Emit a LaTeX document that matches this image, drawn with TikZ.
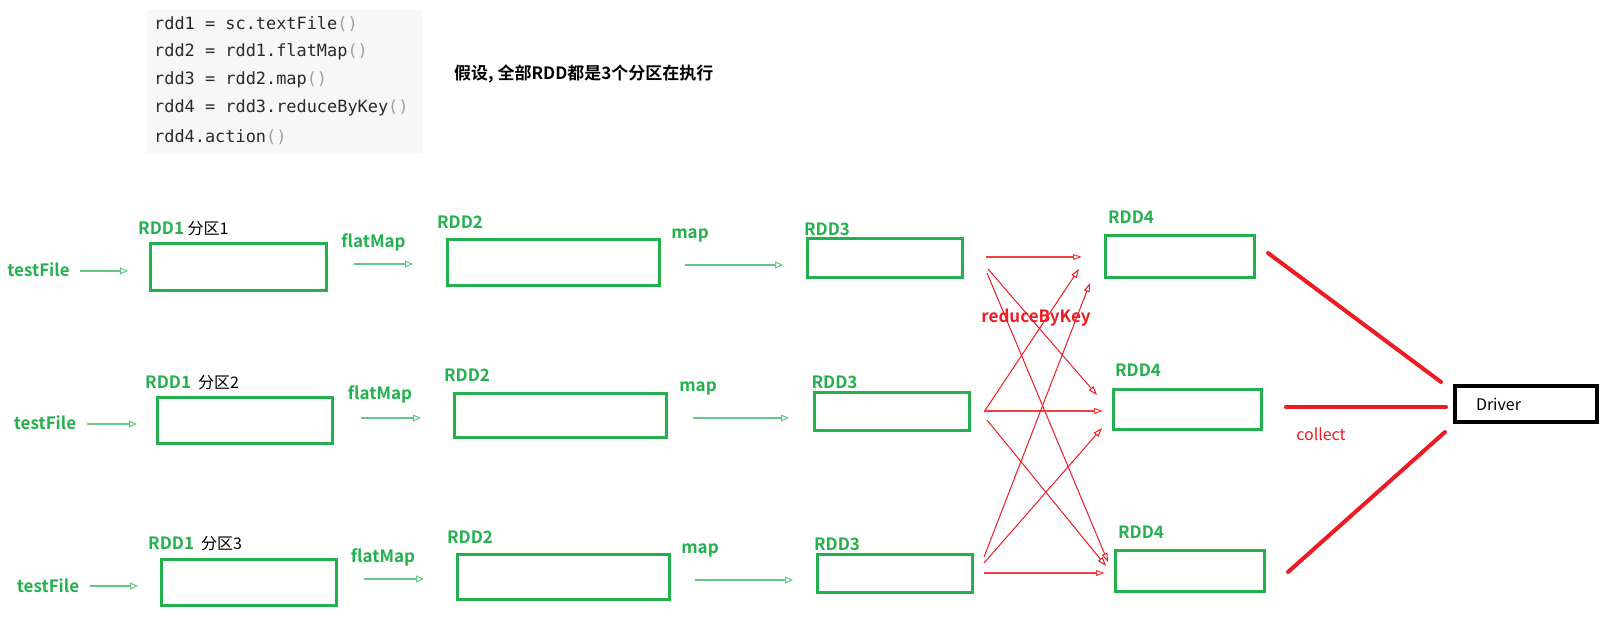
\documentclass[tikz,border=0pt]{standalone}
\usepackage{fontspec}
\setmainfont{Noto Sans CJK SC}[BoldFont={Noto Sans CJK SC Bold}]
\setmonofont{DejaVu Sans Mono}
\usetikzlibrary{arrows.meta}
\definecolor{pgreen}{HTML}{22B14C}
\definecolor{pred}{HTML}{ED1C24}
\definecolor{codebg}{HTML}{F7F7F7}
\definecolor{codefg}{HTML}{2A2A2A}
\newcommand{\pp}{{\color{gray!75}()}}
\begin{document}
\begin{tikzpicture}[x=1pt,y=-1pt,
  box/.style={draw=pgreen, line width=3pt, inner sep=0pt},
  glabel/.style={text=pgreen, font=\fontsize{17}{17}\selectfont\bfseries, inner sep=0pt},
  plabel/.style={font=\fontsize{16}{16}\selectfont, inner sep=0pt, anchor=west},
  codeline/.style={font=\ttfamily\fontsize{16.9}{16.9}\selectfont, text=codefg, inner sep=0pt, anchor=west},
  garrow/.style={draw=pgreen!70!white, line width=1.8pt, -{Triangle[open,length=8pt,width=7pt,line width=1pt]}},
  rarrow/.style={draw=pred, line width=1pt, -{Triangle[open,length=9pt,width=6pt]}},
  rharrow/.style={draw=pred!85!white, line width=1.8pt, -{Triangle[open,length=9pt,width=6pt,line width=1pt]}},
  rthick/.style={draw=pred, line width=4pt, line cap=round},
]
\useasboundingbox[fill=white] (0,0) rectangle (1611,641);

% code block
\fill[codebg] (147,10) rectangle (422,153);
\node[codeline] (c1) at (154,24) {rdd1 = sc.textFile\pp};
\node[codeline] (c2) at (154,52) {rdd2 = rdd1.flatMap\pp};
\node[codeline] (c3) at (154,80) {rdd3 = rdd2.map\pp};
\node[codeline] (c4) at (154,108) {rdd4 = rdd3.reduceByKey\pp};
\node[codeline] (c5) at (154,137) {rdd4.action\pp};
\node[font=\fontsize{17}{17}\selectfont\bfseries, inner sep=0pt, anchor=west] (note) at (454,74) {假设, 全部RDD都是3个分区在执行};

% boxes
\node[box, minimum width=176pt, minimum height=47pt] (r1a) at (238.5,267) {};
\node[box, minimum width=212pt, minimum height=46pt] (r1b) at (553.5,262.5) {};
\node[box, minimum width=155pt, minimum height=39pt] (r1c) at (885,258) {};
\node[box, minimum width=149pt, minimum height=42pt] (r1d) at (1180,256.5) {};
\node[box, minimum width=175pt, minimum height=46pt] (r2a) at (245,420.5) {};
\node[box, minimum width=212pt, minimum height=44pt] (r2b) at (560.5,415.5) {};
\node[box, minimum width=155pt, minimum height=38pt] (r2c) at (892,411.5) {};
\node[box, minimum width=148pt, minimum height=40pt] (r2d) at (1187.5,409.5) {};
\node[box, minimum width=175pt, minimum height=46pt] (r3a) at (249,582.5) {};
\node[box, minimum width=212pt, minimum height=45pt] (r3b) at (563.5,577) {};
\node[box, minimum width=155pt, minimum height=38pt] (r3c) at (895,573.5) {};
\node[box, minimum width=149pt, minimum height=41pt] (r3d) at (1190,571) {};

% driver
\node[draw=black, line width=4pt, minimum width=142pt, minimum height=36pt,
      text width=100pt, align=left, inner xsep=21pt, inner ysep=0pt,
      font=\fontsize{16}{16}\selectfont] (drv) at (1526,404) {Driver};

% labels row 1
\node[glabel] (tf1) at (38.5,270) {testFile};
\node[plabel] (l1a) at (138,229) {{\color{pgreen}\bfseries\fontsize{17}{17}\selectfont RDD1} 分区1};
\node[glabel] (fm1) at (373.5,242) {flatMap};
\node[glabel] (l1b) at (460,222) {RDD2};
\node[glabel] (mp1) at (690,235) {map};
\node[glabel] (l1c) at (827,229) {RDD3};
\node[glabel] (l1d) at (1131,217) {RDD4};
% labels row 2
\node[glabel] (tf2) at (45,423) {testFile};
\node[plabel] (l2a) at (145,383) {{\color{pgreen}\bfseries\fontsize{17}{17}\selectfont RDD1}\hspace{7pt}分区2};
\node[glabel] (fm2) at (380,394) {flatMap};
\node[glabel] (l2b) at (467,375) {RDD2};
\node[glabel] (mp2) at (698,388) {map};
\node[glabel] (l2c) at (834.5,382) {RDD3};
\node[glabel] (l2d) at (1138,370) {RDD4};
% labels row 3
\node[glabel] (tf3) at (48,586) {testFile};
\node[plabel] (l3a) at (148,544) {{\color{pgreen}\bfseries\fontsize{17}{17}\selectfont RDD1}\hspace{7pt}分区3};
\node[glabel] (fm3) at (383,557) {flatMap};
\node[glabel] (l3b) at (470,537) {RDD2};
\node[glabel] (mp3) at (700,550) {map};
\node[glabel] (l3c) at (837,544) {RDD3};
\node[glabel] (l3d) at (1141,532) {RDD4};

\node[text=pred, font=\fontsize{17}{17}\selectfont\bfseries, inner sep=0pt] (rbk) at (1036,318) {reduceByKey};
\node[text=pred, font=\fontsize{16}{16}\selectfont, inner sep=0pt] (col) at (1321,434) {collect};

% green arrow end points
\coordinate (g1s) at (80,271);  \coordinate (g1e) at (128,271);
\coordinate (g2s) at (354,264); \coordinate (g2e) at (413,264);
\coordinate (g3s) at (685,265); \coordinate (g3e) at (783,265);
\coordinate (h1s) at (87,424);  \coordinate (h1e) at (137,424);
\coordinate (h2s) at (361,418); \coordinate (h2e) at (421,418);
\coordinate (h3s) at (693,418); \coordinate (h3e) at (789,418);
\coordinate (i1s) at (90,586);  \coordinate (i1e) at (138,586);
\coordinate (i2s) at (364,579); \coordinate (i2e) at (424,579);
\coordinate (i3s) at (695,580); \coordinate (i3e) at (793,580);

\draw[garrow] (g1s) -- (g1e);
\draw[garrow] (g2s) -- (g2e);
\draw[garrow] (g3s) -- (g3e);
\draw[garrow] (h1s) -- (h1e);
\draw[garrow] (h2s) -- (h2e);
\draw[garrow] (h3s) -- (h3e);
\draw[garrow] (i1s) -- (i1e);
\draw[garrow] (i2s) -- (i2e);
\draw[garrow] (i3s) -- (i3e);

% red shuffle arrows
\coordinate (s1a) at (986,257); \coordinate (t1a) at (1082,257);
\coordinate (s1b) at (988,269); \coordinate (t2a) at (1097,395);
\coordinate (s1c) at (987,273); \coordinate (t3a) at (1108,562);
\coordinate (s2a) at (984,412); \coordinate (t1b) at (1079,269);
\coordinate (s2b) at (984,411); \coordinate (t2b) at (1103,411);
\coordinate (s2c) at (987,420); \coordinate (t3b) at (1106,566);
\coordinate (s3a) at (984,557); \coordinate (t1c) at (1090,283);
\coordinate (s3b) at (984,563); \coordinate (t2c) at (1102,428);
\coordinate (s3c) at (984,573); \coordinate (t3c) at (1105,573);

\draw[rharrow] (s1a) -- (t1a);
\draw[rarrow] (s1b) -- (t2a);
\draw[rarrow] (s1c) -- (t3a);
\draw[rarrow] (s2a) -- (t1b);
\draw[rharrow] (s2b) -- (t2b);
\draw[rarrow] (s2c) -- (t3b);
\draw[rarrow] (s3a) -- (t1c);
\draw[rarrow] (s3b) -- (t2c);
\draw[rharrow] (s3c) -- (t3c);

% collect lines
\coordinate (k1s) at (1268,253); \coordinate (k1e) at (1441,382);
\coordinate (k2s) at (1286,407); \coordinate (k2e) at (1446,407);
\coordinate (k3s) at (1288,572); \coordinate (k3e) at (1445,432);
\draw[rthick] (k1s) -- (k1e);
\draw[rthick] (k2s) -- (k2e);
\draw[rthick] (k3s) -- (k3e);
\end{tikzpicture}
\end{document}
